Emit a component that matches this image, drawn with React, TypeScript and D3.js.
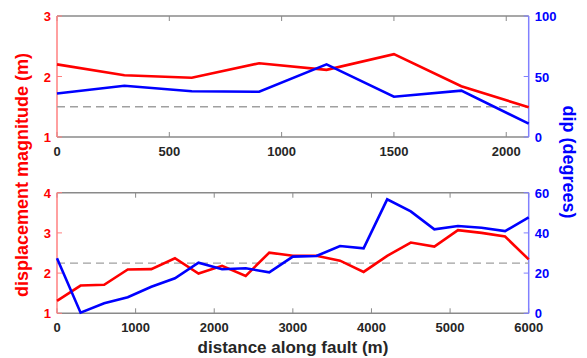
import * as d3 from "d3";

const W = 587;
const H = 358;

// top panel
const topX = [0, 300, 600, 900, 1200, 1500, 1800, 2100];
const topDisp = [2.2, 2.02, 1.98, 2.22, 2.11, 2.37, 1.84, 1.49];
const topDip = [36, 42.4, 37.8, 37.4, 60, 33.3, 38.3, 11];
const topXTicks = [0, 500, 1000, 1500, 2000];
const topLeftTicks = [1, 2, 3];
const topRightTicks = [0, 50, 100];

// bottom panel
const botX = [0, 300, 600, 900, 1200, 1500, 1800, 2100, 2400, 2700, 3000, 3300, 3600, 3900, 4200, 4500, 4800, 5100, 5400, 5700, 6000];
const botDisp = [1.31, 1.69, 1.71, 2.09, 2.1, 2.37, 1.99, 2.18, 1.93, 2.51, 2.43, 2.43, 2.31, 2.03, 2.43, 2.76, 2.66, 3.07, 3.0, 2.91, 2.34];
const botDip = [27.4, 0.3, 5, 8, 13.2, 17.4, 25.2, 21.9, 22.4, 20.4, 28.2, 28.5, 33.5, 32.3, 56.7, 50.7, 41.8, 43.4, 42.6, 40.9, 47.7];
const botXTicks = [0, 1000, 2000, 3000, 4000, 5000, 6000];
const botLeftTicks = [1, 2, 3, 4];
const botRightTicks = [0, 20, 40, 60];

const refDip = 25;

const font = "'Liberation Sans', Arial, sans-serif";
const left = 57;
const right = 528.7;

type PanelProps = {
  xs: number[];
  disp: number[];
  dip: number[];
  xMax: number;
  xTicks: number[];
  leftDomain: [number, number];
  rightDomain: [number, number];
  leftTicks: number[];
  rightTicks: number[];
  top: number;
  bottom: number;
};

const Panel = (p: PanelProps) => {
  const x = d3.scaleLinear().domain([0, p.xMax]).range([left, right]);
  const yL = d3.scaleLinear().domain(p.leftDomain).range([p.bottom, p.top]);
  const yR = d3.scaleLinear().domain(p.rightDomain).range([p.bottom, p.top]);
  const lineL = d3.line<number>().x((_, i) => x(p.xs[i])).y(d => yL(d));
  const lineR = d3.line<number>().x((_, i) => x(p.xs[i])).y(d => yR(d));
  const tl = 5;
  return (
    <g>
      {/* box */}
      <line x1={left} x2={right} y1={p.top} y2={p.top} stroke="#8a8a8a" strokeWidth={1.5} />
      <line x1={left} x2={right} y1={p.bottom} y2={p.bottom} stroke="#8a8a8a" strokeWidth={1.5} />
      {p.xTicks.map(t => (
        <g key={t}>
          <line x1={x(t)} x2={x(t)} y1={p.bottom} y2={p.bottom - tl} stroke="#8a8a8a" />
          <line x1={x(t)} x2={x(t)} y1={p.top} y2={p.top + tl} stroke="#8a8a8a" />
          <text x={x(t)} y={p.bottom + 19} textAnchor="middle" fontSize={13} fontWeight="bold" fill="#262626">
            {t}
          </text>
        </g>
      ))}
      <line x1={left} x2={left} y1={p.top} y2={p.bottom} stroke="#ff8080" strokeWidth={1.5} />
      <line x1={right} x2={right} y1={p.top} y2={p.bottom} stroke="#8080ff" strokeWidth={1.5} />
      {p.leftTicks.map(t => (
        <g key={t}>
          <line x1={left} x2={left + tl} y1={yL(t)} y2={yL(t)} stroke="#ff8080" />
          <text x={left - 6} y={yL(t) + 5} textAnchor="end" fontSize={13} fontWeight="bold" fill="#ff0000">
            {t}
          </text>
        </g>
      ))}
      {p.rightTicks.map(t => (
        <g key={t}>
          <line x1={right} x2={right - tl} y1={yR(t)} y2={yR(t)} stroke="#8080ff" />
          <text x={right + 6} y={yR(t) + 5} textAnchor="start" fontSize={13} fontWeight="bold" fill="#0000ff">
            {t}
          </text>
        </g>
      ))}
      <line x1={left} x2={right} y1={yR(refDip)} y2={yR(refDip)} stroke="#a0a0a0" strokeWidth={1.3} strokeDasharray="8,5" />
      <path d={lineL(p.disp) ?? ""} fill="none" stroke="#ff0000" strokeWidth={2.6} />
      <path d={lineR(p.dip) ?? ""} fill="none" stroke="#0000ff" strokeWidth={2.6} />
    </g>
  );
};

export default function App() {
  return (
    <svg width={W} height={H} style={{ position: "absolute", left: 0, top: 0, background: "#fff" }} fontFamily={font}>
      <Panel xs={topX} disp={topDisp} dip={topDip} xMax={2100} xTicks={topXTicks}
        leftDomain={[1, 3]} rightDomain={[0, 100]} leftTicks={topLeftTicks} rightTicks={topRightTicks}
        top={16} bottom={137} />
      <Panel xs={botX} disp={botDisp} dip={botDip} xMax={6000} xTicks={botXTicks}
        leftDomain={[1, 4]} rightDomain={[0, 60]} leftTicks={botLeftTicks} rightTicks={botRightTicks}
        top={192.7} bottom={313.3} />
      <text transform="translate(28,175) rotate(-90)" textAnchor="middle" fontSize={18} fontWeight="bold" fill="#ff0000">
        displacement magnitude (m)
      </text>
      <text transform="translate(563,162) rotate(90)" textAnchor="middle" fontSize={18} fontWeight="bold" fill="#0000ff">
        dip (degrees)
      </text>
      <text x={293} y={353} textAnchor="middle" fontSize={17} fontWeight="bold" fill="#262626">
        distance along fault (m)
      </text>
    </svg>
  );
}
